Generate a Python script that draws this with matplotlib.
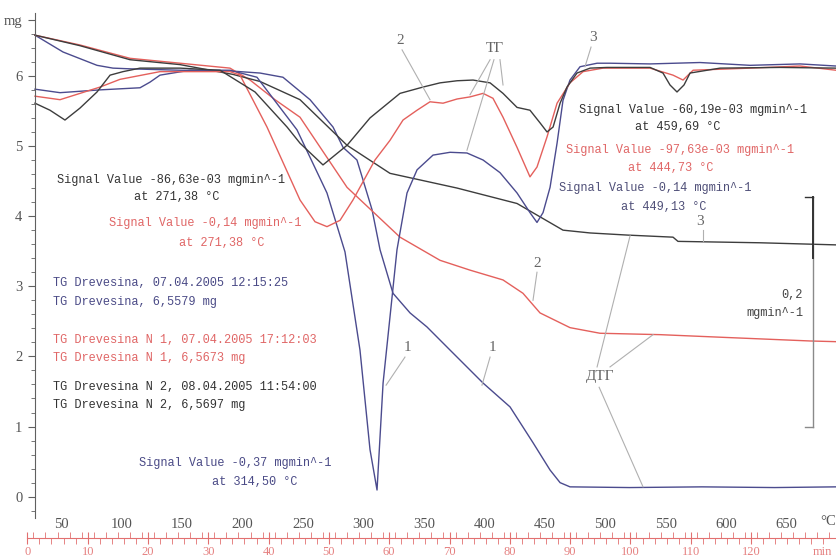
import matplotlib
matplotlib.use("Agg")
import matplotlib.pyplot as plt
import numpy as np

# ---------------- data (temperature °C, value on the mg scale) ----------------
tg1_T = [28.4, 51.6, 79.7, 92.9, 107.0, 148.4, 189.7, 214.5, 233.5, 255.9, 274.9, 283.2, 294.7,
         307.2, 313.8, 324.5, 338.6, 352.6, 371.7, 399.0, 421.3, 440.3, 454.4, 462.7, 470.9,
         520.0, 580.0, 640.0, 690.9]
tg1_mg = [6.58, 6.34, 6.15, 6.11, 6.10, 6.08, 6.07, 6.04, 5.98, 5.66, 5.27, 4.98, 4.80,
          4.09, 3.52, 2.90, 2.62, 2.42, 2.09, 1.62, 1.28, 0.77, 0.38, 0.20, 0.14,
          0.13, 0.14, 0.13, 0.14]

tg2_T = [28.4, 65.6, 107.0, 148.4, 189.7, 206.3, 226.9, 247.6, 286.5, 330.3, 363.4, 388.2,
         415.5, 432.0, 446.1, 470.9, 495.7, 545.4, 600.0, 669.4, 690.9]
tg2_mg = [6.58, 6.44, 6.25, 6.18, 6.11, 5.94, 5.66, 5.41, 4.41, 3.70, 3.37, 3.23,
          3.09, 2.90, 2.62, 2.41, 2.33, 2.31, 2.27, 2.22, 2.21]

tg3_T = [28.4, 65.6, 107.0, 148.4, 192.3, 214.5, 247.6, 286.5, 322.0, 377.5, 427.1, 446.1,
         465.1, 487.5, 518.1, 556.1, 560.2, 628.1, 690.9]
tg3_mg = [6.58, 6.43, 6.23, 6.16, 6.02, 5.92, 5.66, 5.01, 4.61, 4.40, 4.18, 3.99,
          3.80, 3.76, 3.73, 3.70, 3.64, 3.62, 3.59]

dtg1_T = [28.4, 49.1, 82.2, 115.3, 123.5, 131.8, 156.6, 189.7, 212.0, 245.1, 269.9, 284.8,
          297.2, 305.5, 311.3, 316.3, 322.0, 327.8, 336.1, 344.4, 357.6, 371.7, 385.7, 399.0,
          413.0, 427.1, 437.8, 443.6, 448.6, 454.4, 460.2, 465.1, 470.9, 479.2, 493.3, 504.0,
          537.1, 578.4, 619.8, 661.2, 690.9]
dtg1_v = [5.81, 5.76, 5.80, 5.83, 5.91, 6.01, 6.08, 6.08, 5.98, 5.23, 4.33, 3.49,
          2.09, 0.67, 0.095, 1.62, 2.56, 3.52, 4.33, 4.66, 4.87, 4.91, 4.90, 4.80,
          4.62, 4.33, 4.05, 3.91, 4.05, 4.41, 5.04, 5.65, 5.94, 6.13, 6.18, 6.18,
          6.17, 6.19, 6.15, 6.17, 6.14]

dtg2_T = [28.4, 49.1, 82.2, 98.7, 131.8, 189.7, 198.0, 220.3, 247.6, 260.0, 269.9, 280.7,
          291.4, 309.6, 322.0, 332.8, 344.4, 355.1, 365.9, 377.5, 388.2, 399.0, 407.2, 415.5,
          427.1, 437.8, 443.6, 451.9, 460.2, 470.9, 481.7, 498.2, 537.1, 556.1, 564.4, 572.7,
          619.8, 661.2, 690.9]
dtg2_v = [5.71, 5.66, 5.84, 5.95, 6.06, 6.06, 6.01, 5.27, 4.23, 3.92, 3.85, 3.94,
          4.23, 4.80, 5.08, 5.37, 5.51, 5.63, 5.61, 5.67, 5.70, 5.75, 5.68, 5.41,
          4.98, 4.56, 4.70, 5.13, 5.61, 5.90, 6.06, 6.11, 6.11, 6.01, 5.94, 6.08,
          6.11, 6.14, 6.08]

dtg3_T = [28.4, 40.8, 53.2, 65.6, 79.7, 90.5, 101.2, 115.3, 148.4, 181.5, 210.4, 236.9,
          247.6, 266.6, 286.5, 305.5, 330.3, 349.3, 363.4, 377.5, 390.7, 404.8, 415.5, 427.1,
          437.8, 446.1, 451.9, 456.9, 462.7, 468.4, 476.7, 487.5, 501.5, 537.1, 547.8, 553.6,
          559.4, 565.2, 570.2, 595.0, 644.6, 690.9]
dtg3_v = [5.61, 5.51, 5.37, 5.54, 5.77, 6.01, 6.06, 6.11, 6.11, 6.08, 5.77, 5.27,
          5.04, 4.73, 5.01, 5.40, 5.75, 5.84, 5.90, 5.93, 5.94, 5.90, 5.75, 5.55,
          5.51, 5.33, 5.20, 5.27, 5.61, 5.84, 6.04, 6.11, 6.12, 6.12, 6.04, 5.87,
          5.77, 5.87, 6.04, 6.11, 6.12, 6.11]

y_ticks = [0, 1, 2, 3, 4, 5, 6, 6.8]
y_labels = ["0", "1", "2", "3", "4", "5", "6", "mg"]
temp_ticks = list(range(50, 651, 50))
time_ticks = list(range(0, 121, 10))

BLUE = "#4b4b8e"
RED = "#e4605c"
DARK = "#3d3d3d"
LEAD = "#b0b0b0"
RULER = "#e27070"
MONO = "Liberation Mono"
SERIF = "Liberation Serif"

fig = plt.figure(figsize=(8.36, 5.6), dpi=100)
ax = fig.add_axes([27 / 836, 42 / 560, 809 / 836, 505 / 560])
ax.set_xlim(21.8, 690.9)
ax.set_ylim(-0.304, 6.896)

for s in ["top", "right", "bottom"]:
    ax.spines[s].set_visible(False)
ax.spines["left"].set_position(("data", 28.4))
ax.spines["left"].set_color("#606060")

lw = 1.0
ax.plot(tg1_T, tg1_mg, color=BLUE, lw=lw)
ax.plot(tg2_T, tg2_mg, color=RED, lw=lw)
ax.plot(tg3_T, tg3_mg, color=DARK, lw=lw)
ax.plot(dtg1_T, dtg1_v, color=BLUE, lw=lw)
ax.plot(dtg2_T, dtg2_v, color=RED, lw=lw)
ax.plot(dtg3_T, dtg3_v, color=DARK, lw=lw)

# y axis
ax.set_yticks(y_ticks)
ax.set_yticklabels(y_labels)
ax.set_yticks(np.arange(-0.2, 6.81, 0.2), minor=True)
ax.tick_params(axis="y", which="major", direction="out", length=5, color="#606060",
               labelcolor="#555555", labelsize=10.5, pad=4)
ax.tick_params(axis="y", which="minor", direction="out", length=3, color="#606060")

# temperature axis (labels only)
ax.set_xticks(temp_ticks)
ax.set_xticklabels([str(t) for t in temp_ticks])
ax.tick_params(axis="x", which="both", length=0, pad=0, labelcolor="#555555", labelsize=10.5)
for lab in ax.get_xticklabels() + ax.get_yticklabels():
    lab.set_fontfamily(SERIF)

# time axis (red ruler)
def T2t(T):
    return (np.asarray(T) - 22.1) / 4.988

def t2T(t):
    return 22.1 + 4.988 * np.asarray(t)

loc = -20 / 505
sec = ax.secondary_xaxis(loc, functions=(T2t, t2T))
sec.spines["bottom"].set_color(RULER)
sec.set_xticks(time_ticks)
sec.set_xticklabels([str(t) for t in time_ticks])
sec.set_xticks(np.arange(0, 134, 2), minor=True)
sec.tick_params(which="major", direction="inout", length=9, color=RULER,
                labelcolor="#e58080", labelsize=9, pad=1)
sec.tick_params(which="minor", direction="out", length=4, color=RULER)
for lab in sec.get_xticklabels():
    lab.set_fontfamily(SERIF)

sec2 = ax.secondary_xaxis(loc, functions=(T2t, t2T))
sec2.spines["bottom"].set_visible(False)
sec2.set_xticks([])
sec2.set_xticks(np.arange(1, 134, 2), minor=True)
sec2.tick_params(which="minor", direction="in", length=4, color=RULER)

ax.text(684.3, -0.36, "°C", ha="center", va="center", fontsize=10.5, color="#555555",
        family=SERIF, clip_on=False)
ax.text(679.4, -0.79, "min", ha="center", va="center", fontsize=9, color="#e58080",
        family=SERIF, clip_on=False)

# annotations
fs = 8.6
def note(x, y, s, c, ha="center"):
    ax.text(x, y, s, ha=ha, va="center", fontsize=fs, color=c, family=MONO)

note(140.9, 4.51, "Signal Value -86,63e-03 mgmin^-1", "#333333")
note(145.9, 4.27, "at 271,38 °C", "#333333")
note(169.0, 3.90, "Signal Value -0,14 mgmin^-1", "#e06666")
note(183.1, 3.62, "at 271,38 °C", "#e06666")
note(43.3, 3.05, "TG Drevesina, 07.04.2005 12:15:25", "#4a4a86", ha="left")
note(43.3, 2.78, "TG Drevesina, 6,5579 mg", "#4a4a86", ha="left")
note(43.3, 2.24, "TG Drevesina N 1, 07.04.2005 17:12:03", "#e06666", ha="left")
note(43.3, 1.98, "TG Drevesina N 1, 6,5673 mg", "#e06666", ha="left")
note(43.3, 1.56, "TG Drevesina N 2, 08.04.2005 11:54:00", "#333333", ha="left")
note(43.3, 1.31, "TG Drevesina N 2, 6,5697 mg", "#333333", ha="left")
note(193.8, 0.48, "Signal Value -0,37 mgmin^-1", "#4a4a86")
note(210.4, 0.21, "at 314,50 °C", "#4a4a86")
note(572.7, 5.51, "Signal Value -60,19e-03 mgmin^-1", "#333333")
note(560.2, 5.27, "at 459,69 °C", "#333333")
note(561.9, 4.94, "Signal Value -97,63e-03 mgmin^-1", "#e06666")
note(554.5, 4.68, "at 444,73 °C", "#e06666")
note(541.2, 4.40, "Signal Value -0,14 mgmin^-1", "#4f4f78")
note(548.7, 4.13, "at 449,13 °C", "#4f4f78")
note(663.7, 2.87, "0,2", "#444444", ha="right")
note(663.7, 2.62, "mgmin^-1", "#444444", ha="right")

# scale bar
ax.plot([671.9, 671.9], [4.27, 0.99], color="#8a8a8a", lw=1.0)
ax.plot([671.9, 671.9], [4.27, 3.40], color="#333333", lw=1.4)
ax.plot([665.3, 671.9], [4.27, 4.27], color="#333333", lw=1.0)
ax.plot([665.3, 671.9], [0.99, 0.99], color="#8a8a8a", lw=1.0)

# curve labels with leader lines
def lab(x, y, s):
    ax.text(x, y, s, ha="center", va="center", fontsize=11, color="#666666", family=SERIF)

def lead(x0, y0, x1, y1):
    ax.plot([x0, x1], [y0, y1], color=LEAD, lw=0.8)

lab(330.3, 6.51, "2"); lead(332.0, 6.37, 355.1, 5.66)
lab(408.9, 6.39, "ТГ")
lead(404.8, 6.23, 388.2, 5.73)
lead(408.0, 6.23, 385.7, 4.94)
lead(413.0, 6.23, 415.5, 5.87)
lab(490.0, 6.54, "3"); lead(488.3, 6.41, 483.3, 6.13)
lab(578.4, 3.92, "3"); lead(581.1, 3.80, 581.1, 3.65)
lab(443.6, 3.33, "2"); lead(443.6, 3.20, 440.3, 2.80)
lab(336.1, 2.13, "1"); lead(334.4, 1.99, 318.8, 1.59)
lab(407.2, 2.13, "1"); lead(404.8, 1.99, 398.1, 1.59)
lab(495.7, 1.71, "ДТГ")
lead(493.3, 1.85, 520.6, 3.72)
lead(504.0, 1.85, 539.6, 2.31)
lead(495.0, 1.56, 531.3, 0.14)

fig.savefig("out.png", dpi=100)
